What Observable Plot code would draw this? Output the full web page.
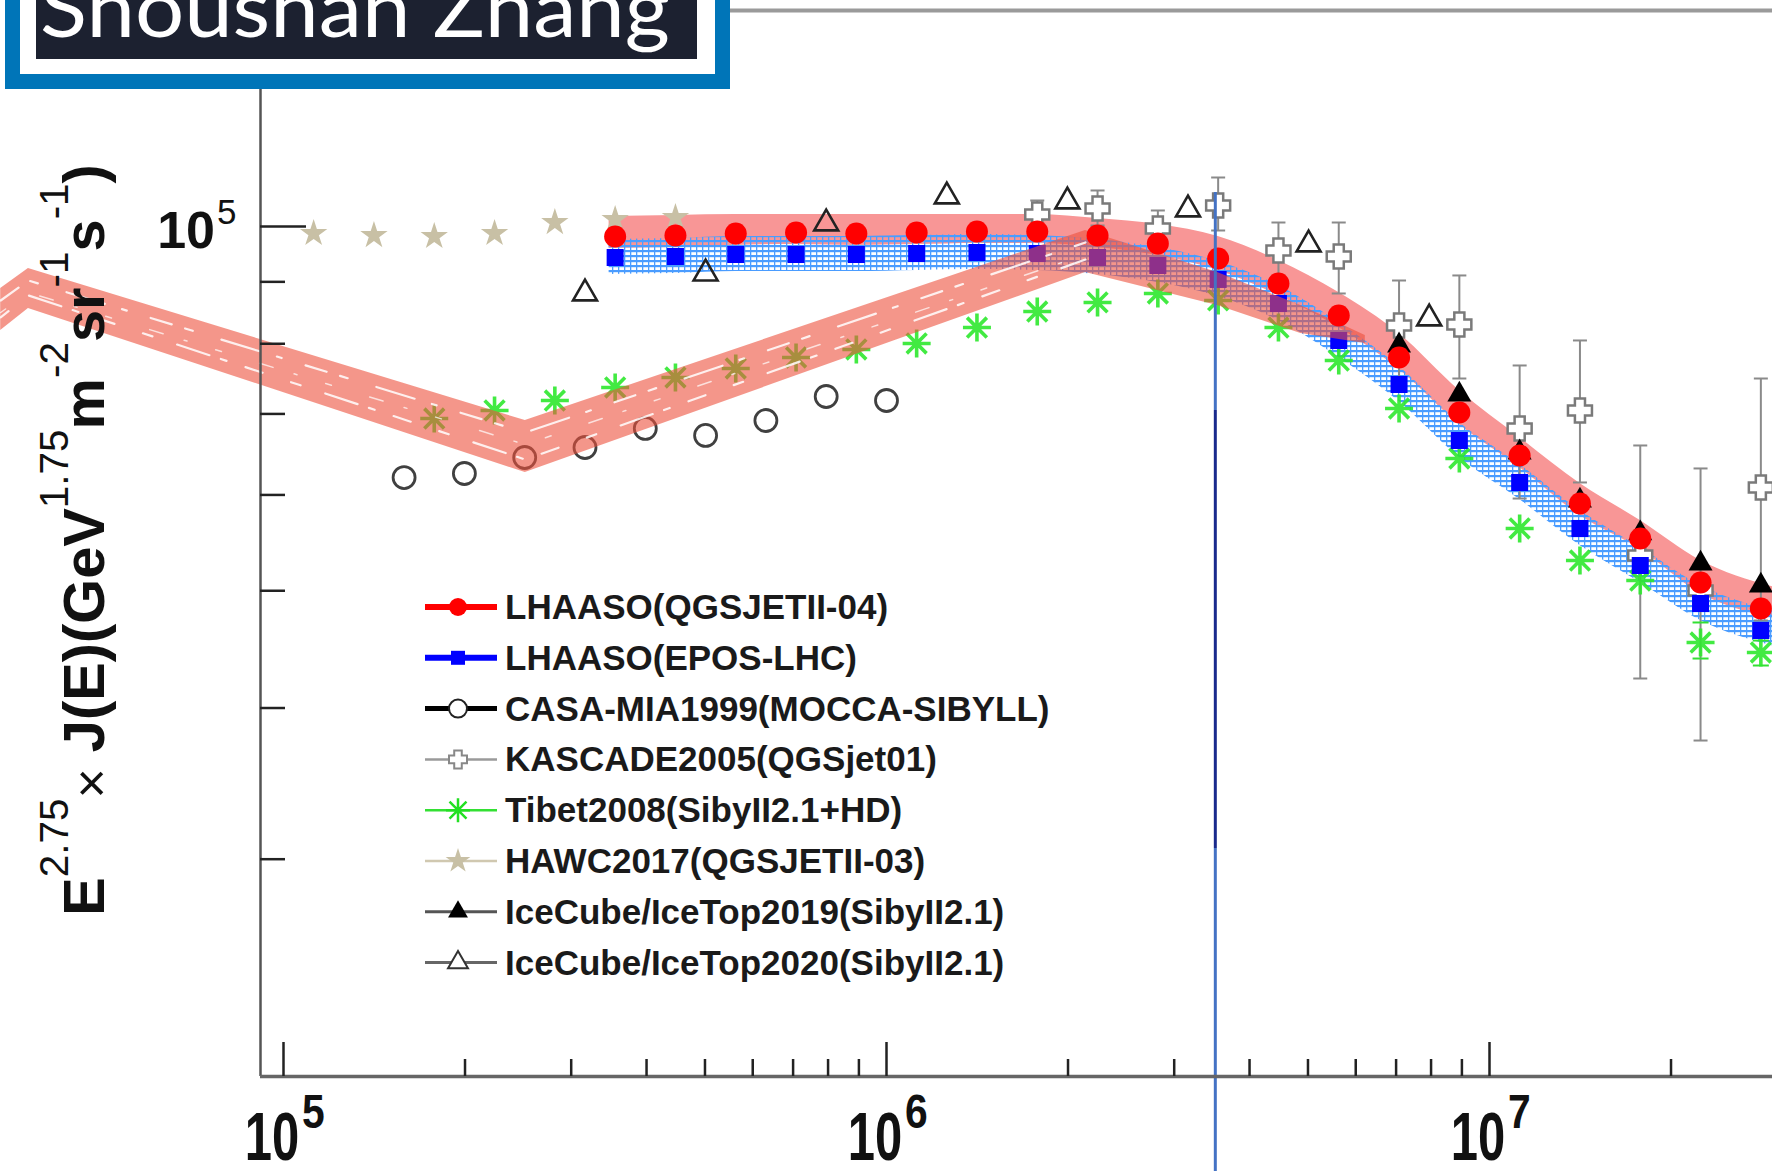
<!DOCTYPE html>
<html><head><meta charset="utf-8">
<script src="https://cdn.jsdelivr.net/npm/d3@7"></script>
<script src="https://cdn.jsdelivr.net/npm/@observablehq/plot@0.6"></script>
<style>
html,body{margin:0;padding:0;background:#fff;}
#chart{position:relative;width:1772px;height:1171px;overflow:hidden;}
</style></head><body><div id="chart"></div>
<script>
// ---------------- data (log10 E in GeV, flux E^2.75 J(E)) ----------------
const lhaasoLogE = [5.55,5.65,5.75,5.85,5.95,6.05,6.15,6.25,6.35,6.45,6.55,6.65,6.75,6.85,6.95,7.05,7.15,7.25,7.35,7.45];
const qgsjet = [98120,98300,98680,98870,98680,98870,99050,99050,98300,96820,94090,89720,84420,77940,70190,64680,59030,55230,50790,48340];
const epos   = [94270,94450,94810,94810,94810,94990,95170,94990,94270,92850,90410,86370,80500,74030,66550,61440,56290,52460,48800,46360];

const bandLogE  = [5.54,5.65,5.75,5.85,5.95,6.05,6.15,6.25,6.35,6.45,6.55,6.65,6.75,6.85,6.95,7.05,7.15,7.25,7.35,7.48];
const qgsBandHi = [101920,102120,102310,102310,102310,102310,102310,102310,101530,100380,98120,93730,88200,81580,73190,66930,61320,57150,52960,50210];
const qgsBandLo = [95900,96080,96450,96630,96450,96630,96820,96820,96080,94630,91970,87700,82510,76180,68610,63220,57690,54080,49740,47340];
const eposBandHi = [97560,97740,98120,98120,98120,98300,98490,98300,97560,96080,93560,89380,83300,76610,68870,63580,58250,54290,50500,47970];
const eposBandLo = [91270,91440,91790,91790,91790,91970,92140,91970,91270,89890,87530,83620,77940,71670,64430,59480,54500,50790,47250,44880];

const casaLogE = [5.2,5.3,5.4,5.5,5.6,5.7,5.8,5.9,6.0];
const casa = [62020,62500,64430,65670,68090,67190,69130,72360,71810];

const kascadeLogE = [6.25,6.35,6.45,6.55,6.65,6.75,6.85,6.95,7.05,7.15,7.25,7.35,7.45];
const kascade   = [102310,103490,99620,104080,95540,94450,82830,82990,68090,70460,53470,50020,60860];
const kascadeLo = [99620,100190,96450,99240,89890,88030,74880,74880,59590,61440,42310,37600,47250];
const kascadeHi = [105070,107090,103090,109770,100760,100760,90230,91100,76760,80500,65920,63100,74880];

const tibetLogE = [5.25,5.35,5.45,5.55,5.65,5.75,5.85,5.95,6.05,6.15,6.25,6.35,6.45,6.55,6.65,6.75,6.85,6.95,7.05,7.15,7.25,7.35,7.45];
const tibet = [69390,70460,71810,73610,75030,76320,77940,79130,80040,82510,85060,86540,88030,86870,82510,77490,70730,64310,56290,52960,50980,45310,44460];
const tibetErrLogE = [7.35,7.45];
const tibetErrLo = [43950,43370];
const tibetErrHi = [47070,45480];

const hawcLogE = [5.05,5.15,5.25,5.35,5.45,5.55,5.65];
const hawc = [98680,98300,98120,98680,100760,101340,101730];

const icetop19LogE = [6.85,6.95,7.05,7.15,7.25,7.35,7.45];
const icetop19 = [79740,72640,65050,59370,55760,52660,50500];

const icetop20LogE = [5.5,5.7,5.9,6.1,6.3,6.5,6.7,6.9];
const icetop20 = [88030,91440,100570,105880,104870,103290,96630,83940];

// light-component band (salmon), extends left of the frame
const salmonLogE = [4.531,4.577,5.401,6.330,6.549,6.687,6.794];
const salmonHi = [88870,92310,69120,99240,91610,86050,81270];
const salmonLo = [82050,85560,62610,91610,86050,81580,80040];

const kneeE = 3.51e6;
const kneeSegY = [106680,70460,30620,16560];

const xDomain = [10**4.96186, 10**7.46932];
const yDomain = [19840, 150830];
const xMajor = [1e5,1e6,1e7];
const xMinor = [2e5,3e5,4e5,5e5,6e5,7e5,8e5,9e5,2e6,3e6,4e6,5e6,6e6,7e6,8e6,9e6,2e7];
const yMajor = [1e5];
const yMinor = [3e4,4e4,5e4,6e4,7e4,8e4,9e4];

const legendLabels = ["LHAASO(QGSJETII-04)","LHAASO(EPOS-LHC)","CASA-MIA1999(MOCCA-SIBYLL)","KASCADE2005(QGSjet01)","Tibet2008(SibyII2.1+HD)","HAWC2017(QGSJETII-03)","IceCube/IceTop2019(SibyII2.1)","IceCube/IceTop2020(SibyII2.1)"];

// ---------------- tables ----------------
const lhaaso = lhaasoLogE.map((v,i)=>({E:10**v, q:qgsjet[i], e:epos[i]}));
const band = bandLogE.map((v,i)=>({E:10**v, qLo:qgsBandLo[i], qHi:qgsBandHi[i], eLo:eposBandLo[i], eHi:eposBandHi[i]}));
const casaD = casaLogE.map((v,i)=>({E:10**v, y:casa[i]}));
const kasD = kascadeLogE.map((v,i)=>({E:10**v, y:kascade[i], lo:kascadeLo[i], hi:kascadeHi[i]}));
const tibD = tibetLogE.map((v,i)=>({E:10**v, y:tibet[i]}));
const tibErr = tibetErrLogE.map((v,i)=>({E:10**v, lo:tibetErrLo[i], hi:tibetErrHi[i]}));
const hawcD = hawcLogE.map((v,i)=>({E:10**v, y:hawc[i]}));
const ice19 = icetop19LogE.map((v,i)=>({E:10**v, y:icetop19[i]}));
const ice20 = icetop20LogE.map((v,i)=>({E:10**v, y:icetop20[i]}));
const salmon = salmonLogE.map((v,i)=>({E:10**v, lo:salmonLo[i], hi:salmonHi[i]}));
const knee = [0,1,2].map(i=>({E:kneeE, y1:kneeSegY[i], y2:kneeSegY[i+1], dark:i===1}));

// ---------------- custom symbols ----------------
const asterisk8 = {draw(ctx,size){const r=Math.sqrt(size/Math.PI);for(let k=0;k<4;k++){const a=k*Math.PI/4,c=Math.cos(a)*r,s=Math.sin(a)*r;ctx.moveTo(-c,-s);ctx.lineTo(c,s);}}};
const openCross = {draw(ctx,size){const s=Math.sqrt(size/Math.PI),t=s*0.42;ctx.moveTo(-t,-s);ctx.lineTo(t,-s);ctx.lineTo(t,-t);ctx.lineTo(s,-t);ctx.lineTo(s,t);ctx.lineTo(t,t);ctx.lineTo(t,s);ctx.lineTo(-t,s);ctx.lineTo(-t,t);ctx.lineTo(-s,t);ctx.lineTo(-s,-t);ctx.lineTo(-t,-t);ctx.closePath();}};
const cap = {draw(ctx,size){const r=Math.sqrt(size/Math.PI);ctx.moveTo(-r,0);ctx.lineTo(r,0);}};

const plot = Plot.plot({
  width:1772, height:1171,
  marginLeft:260, marginRight:0, marginTop:10, marginBottom:95,
  x:{type:"log", domain:xDomain, axis:null},
  y:{type:"log", domain:yDomain, axis:null},
  style:{background:"white", overflow:"visible"},
  marks:[
    Plot.areaY(band,{x:"E", y1:"qLo", y2:"qHi", fill:"#F89696", curve:"monotone-x"}),
    Plot.areaY(band,{x:"E", y1:"eLo", y2:"eHi", fill:"url(#hatch)", curve:"monotone-x"}),
    Plot.ruleX(kasD,{x:"E", y1:"lo", y2:"hi", stroke:"#8a8a8a", strokeWidth:2}),
    Plot.dot(kasD,{x:"E", y:"lo", symbol:cap, r:7, stroke:"#8a8a8a", strokeWidth:2, fill:"none"}),
    Plot.dot(kasD,{x:"E", y:"hi", symbol:cap, r:7, stroke:"#8a8a8a", strokeWidth:2, fill:"none"}),
    Plot.dot(casaD,{x:"E", y:"y", r:11, stroke:"#404040", strokeWidth:2.8, fill:"none"}),
    Plot.dot(hawcD,{x:"E", y:"y", symbol:"star", r:8.6, fill:"#C8C0A5", stroke:"none"}),
    Plot.dot(tibErr,{x:"E", y:"lo", symbol:cap, r:8, stroke:"#33E033", strokeWidth:2, fill:"none"}),
    Plot.dot(tibErr,{x:"E", y:"hi", symbol:cap, r:8, stroke:"#33E033", strokeWidth:2, fill:"none"}),
    Plot.dot(tibD,{x:"E", y:"y", symbol:asterisk8, r:14, stroke:"#2EE82E", strokeWidth:3.6, fill:"none", strokeOpacity:0.9}),
    Plot.dot(ice20,{x:"E", y:"y", symbol:"triangle", r:8.9, stroke:"#222", strokeWidth:2.6, fill:"none"}),
    Plot.dot(kasD,{x:"E", y:"y", symbol:openCross, r:12, stroke:"#7a7a7a", strokeWidth:2.5, fill:"white"}),
    Plot.dot(ice19,{x:"E", y:"y", symbol:"triangle", r:8.9, fill:"black", stroke:"none"}),
    Plot.dot(lhaaso,{x:"E", y:"e", symbol:"square", r:9.6, fill:"#0000FF", stroke:"none"}),
    Plot.areaY(salmon,{x:"E", y1:"lo", y2:"hi", fill:"#ED503C", fillOpacity:0.6}),
    Plot.line(salmon.slice(0,4),{x:"E", y:"hi", dy:12, stroke:"white", strokeWidth:2.2, strokeOpacity:0.85, strokeDasharray:"22 14 8 30 40 18 5 25"}),
    Plot.line(salmon.slice(0,4),{x:"E", y:"lo", dy:-13, stroke:"white", strokeWidth:2.2, strokeOpacity:0.85, strokeDasharray:"10 26 34 12 6 20 18 30"}),
    Plot.line(salmon.slice(0,4),{x:"E", y:"hi", dy:24, stroke:"white", strokeWidth:1.5, strokeOpacity:0.7, strokeDasharray:"6 40 14 22 3 30"}),
    Plot.dot(lhaaso,{x:"E", y:"q", r:11, fill:"#FF0000", stroke:"none"}),
    Plot.ruleX(knee.filter(d=>!d.dark),{x:"E", y1:"y1", y2:"y2", stroke:"#4472C4", strokeWidth:3}),
    Plot.ruleX(knee.filter(d=>d.dark),{x:"E", y1:"y1", y2:"y2", stroke:"#1A2A8C", strokeWidth:3}),
    Plot.ruleX([xDomain[0]],{stroke:"#555", strokeWidth:2.5}),
    Plot.ruleY([yDomain[0]],{stroke:"#666", strokeWidth:3.5}),
    Plot.ruleY([yDomain[1]],{stroke:"#9a9a9a", strokeWidth:4}),
    Plot.axisX({ticks:xMajor, tickSize:-34, tickFormat:()=>"", stroke:"#222", strokeWidth:2.5, label:null}),
    Plot.axisX({ticks:xMinor, tickSize:-17, tickFormat:()=>"", stroke:"#222", strokeWidth:2.5, label:null}),
    Plot.axisY({ticks:yMajor, tickSize:-46, tickFormat:()=>"", stroke:"#222", strokeWidth:2.5, label:null}),
    Plot.axisY({ticks:yMinor, tickSize:-25, tickFormat:()=>"", stroke:"#222", strokeWidth:2.5, label:null})
  ]
});
document.getElementById("chart").appendChild(plot);
const svg = d3.select(plot);
const sx = plot.scale("x"), sy = plot.scale("y");

// hatch pattern for EPOS band
const defs = svg.insert("defs",":first-child");
const pat = defs.append("pattern").attr("id","hatch").attr("patternUnits","userSpaceOnUse").attr("width",6).attr("height",5);
pat.append("rect").attr("width",6).attr("height",2.2).attr("fill","#4A9CFF");
pat.append("rect").attr("width",1.3).attr("height",5).attr("fill","#4A9CFF");

const FONT = "'Liberation Sans', Arial, Helvetica, sans-serif";
const over = svg.append("g").attr("text-anchor","start");

// x tick labels
xMajor.forEach(v=>{
  const X = sx.apply(v), e = Math.round(Math.log10(v));
  over.append("text").attr("transform",`translate(${X-11},1160) scale(0.72,1)`).attr("text-anchor","middle")
    .attr("font-family",FONT).attr("font-weight","bold").attr("font-size",68).attr("fill","#111").text("10");
  over.append("text").attr("transform",`translate(${X+19},1128) scale(0.85,1)`).attr("text-anchor","start")
    .attr("font-family",FONT).attr("font-weight","bold").attr("font-size",48).attr("fill","#111").text(String(e));
});
// y tick label
yMajor.forEach(v=>{
  const Y = sy.apply(v), e = Math.round(Math.log10(v));
  over.append("text").attr("x",215).attr("y",Y+22).attr("text-anchor","end").attr("font-family",FONT)
    .attr("font-weight","bold").attr("font-size",52).attr("fill","#111").text("10");
  over.append("text").attr("x",217).attr("y",Y-2).attr("text-anchor","start").attr("font-family",FONT)
    .attr("font-size",35).attr("fill","#111").text(String(e));
});

// y axis title
function buildYLabel(fs){
  svg.selectAll(".ylab").remove();
  const t = over.append("text").attr("class","ylab").attr("transform","translate(104,540) rotate(-90)")
    .attr("text-anchor","middle").attr("font-family",FONT).attr("font-weight","bold").attr("font-size",fs).attr("fill","#111");
  const sup = fs*0.7, up = fs*0.62;
  const parts = [["E","n"],["2.75","s"],["\u00D7","x"],[" J(E)(GeV","n"],["1.75","s"],["m","n"],["-2","s"],["sr","n"],["-1","s"],["s","n"],["-1","s"],[")","n"]];
  let shift = 0;
  parts.forEach(([s,k])=>{
    const ts = t.append("tspan").text(s);
    let target = 0;
    if(k==="s"){ ts.attr("font-size",sup).attr("font-weight","normal"); target = -up; }
    if(k==="x"){ ts.attr("font-weight","normal").attr("font-size",fs*0.9); target = 5; }
    ts.attr("dy", target-shift); shift = target;
  });
  return t;
}
let fs = 54;
let yl = buildYLabel(fs);
const L = yl.node().getComputedTextLength();
if (L>0){ fs = fs*752/L; yl = buildYLabel(fs); }

// legend
const legendRows = [
  {line:"#FF0000", lw:6, sym:d3.symbolCircle, size:Math.PI*81, fill:"#FF0000", stroke:"none", sw:0},
  {line:"#0000FF", lw:6, sym:d3.symbolSquare, size:196, fill:"#0000FF", stroke:"none", sw:0},
  {line:"#000000", lw:5, sym:d3.symbolCircle, size:Math.PI*81, fill:"white", stroke:"#222", sw:2},
  {line:"#9a9a9a", lw:2.5, sym:openCross, size:Math.PI*81, fill:"white", stroke:"#888", sw:2},
  {line:"#33E033", lw:2.5, sym:asterisk8, size:Math.PI*144, fill:"none", stroke:"#22E022", sw:2.5},
  {line:"#D0C8B0", lw:2.5, sym:d3.symbolStar, size:190, fill:"#C8C0A5", stroke:"none", sw:0},
  {line:"#555555", lw:3, sym:d3.symbolTriangle, size:172, fill:"black", stroke:"none", sw:0},
  {line:"#666666", lw:3, sym:d3.symbolTriangle, size:172, fill:"white", stroke:"#333", sw:2}
];
const lg = over.append("g").attr("text-anchor","start");
legendRows.forEach((r,i)=>{
  const y = 607 + i*50.8;
  lg.append("line").attr("x1",425).attr("x2",497).attr("y1",y).attr("y2",y).attr("stroke",r.line).attr("stroke-width",r.lw);
  lg.append("path").attr("transform",`translate(458,${y})`).attr("d",d3.symbol().type(r.sym).size(r.size)())
    .attr("fill",r.fill).attr("stroke",r.stroke).attr("stroke-width",r.sw);
  lg.append("text").attr("x",505).attr("y",y+12).attr("text-anchor","start").attr("font-family",FONT).attr("font-weight","bold")
    .attr("font-size",35).attr("fill","#1a1a1a").text(legendLabels[i]);
});

// title box
const tb = over.append("g");
tb.append("rect").attr("x",12.5).attr("y",-30).attr("width",710).attr("height",111.5).attr("fill","white")
  .attr("stroke","#0075B8").attr("stroke-width",15);
tb.append("rect").attr("x",36).attr("y",-10).attr("width",661).attr("height",69).attr("fill","#1C2130");
tb.append("text").attr("x",40).attr("y",37).attr("text-anchor","start").attr("font-family","Lato, 'Open Sans', sans-serif").attr("font-size",82)
  .attr("fill","white").attr("textLength",630).attr("lengthAdjust","spacingAndGlyphs").text("Shoushan Zhang");
</script></body></html>
